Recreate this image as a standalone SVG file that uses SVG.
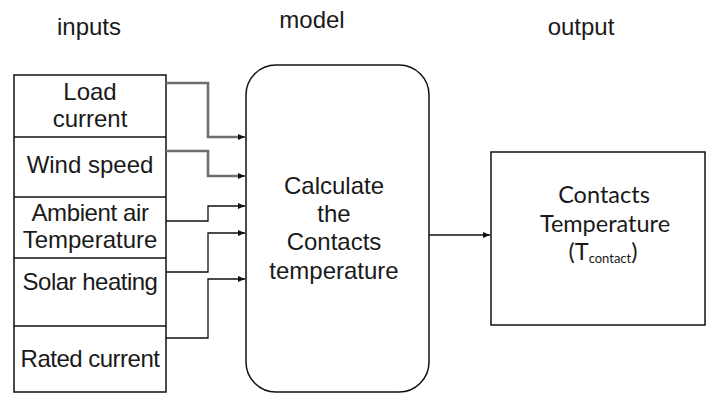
<svg xmlns="http://www.w3.org/2000/svg" width="707" height="394" viewBox="0 0 707 394">
<style>
.t{font-family:"Liberation Sans",Arial,sans-serif;font-size:24px;fill:#1a1a1a;text-anchor:middle}
.c{font-family:Lato,"Open Sans",sans-serif;font-size:23.5px;fill:#1a1a1a;text-anchor:middle}
.box{fill:#fff;stroke:#111;stroke-width:1.5}
.w{fill:none;stroke:#111;stroke-width:1.3}
.g{fill:none;stroke:#6e6e6e;stroke-width:2.6}
</style>
<defs>
<marker id="ah" markerWidth="8" markerHeight="8" refX="7" refY="4" orient="auto" markerUnits="userSpaceOnUse">
<path d="M0,1 L7,4 L0,7 Z" fill="#111"/>
</marker>
</defs>
<rect width="707" height="394" fill="#fff"/>
<g id="titles">
<text class="t" x="89" y="35">inputs</text>
<text class="t" x="312" y="28">model</text>
<text class="t" x="581" y="35">output</text>
</g>
<g id="inputs">
<rect class="box" x="14" y="75" width="152" height="317"/>
<line class="box" x1="14" y1="137" x2="166" y2="137"/>
<line class="box" x1="14" y1="197" x2="166" y2="197"/>
<line class="box" x1="14" y1="258" x2="166" y2="258"/>
<line class="box" x1="14" y1="326" x2="166" y2="326"/>
<text class="t" x="90" y="100">Load</text>
<text class="t" x="90" y="127">current</text>
<text class="t" x="90" y="173">Wind speed</text>
<text class="t" x="90" y="221" letter-spacing="-0.4">Ambient air</text>
<text class="t" x="90" y="248">Temperature</text>
<text class="t" x="90" y="290" letter-spacing="-0.5">Solar heating</text>
<text class="t" x="90" y="367" letter-spacing="-0.5">Rated current</text>
</g>
<g id="model">
<rect class="box" x="246" y="65" width="183" height="327" rx="30" ry="30"/>
<text class="t" x="334" y="194">Calculate</text>
<text class="t" x="334" y="222">the</text>
<text class="t" x="334" y="250">Contacts</text>
<text class="t" x="334" y="279">temperature</text>
</g>
<g id="output">
<rect class="box" x="491" y="152" width="214" height="173"/>
<text class="c" x="604" y="203">Contacts</text>
<text class="c" x="605" y="232">Temperature</text>
<text class="c" x="603" y="260">(T<tspan font-size="13" dy="3">contact</tspan><tspan dy="-3">)</tspan></text>
</g>
<g id="connectors">
<polyline class="g" points="166,83 208,83 208,137 240,137"/>
<polyline class="g" points="166,151 208,151 208,176 240,176"/>
<polyline class="w" points="240,137 245,137" marker-end="url(#ah)"/>
<polyline class="w" points="240,176 245,176" marker-end="url(#ah)"/>
<polyline class="w" points="166,221 208,221 208,206 245,206" marker-end="url(#ah)"/>
<polyline class="w" points="166,272 208,272 208,233 245,233" marker-end="url(#ah)"/>
<polyline class="w" points="166,338 208,338 208,279 245,279" marker-end="url(#ah)"/>
<polyline class="w" points="429,235 490,235" marker-end="url(#ah)"/>
</g>
</svg>
